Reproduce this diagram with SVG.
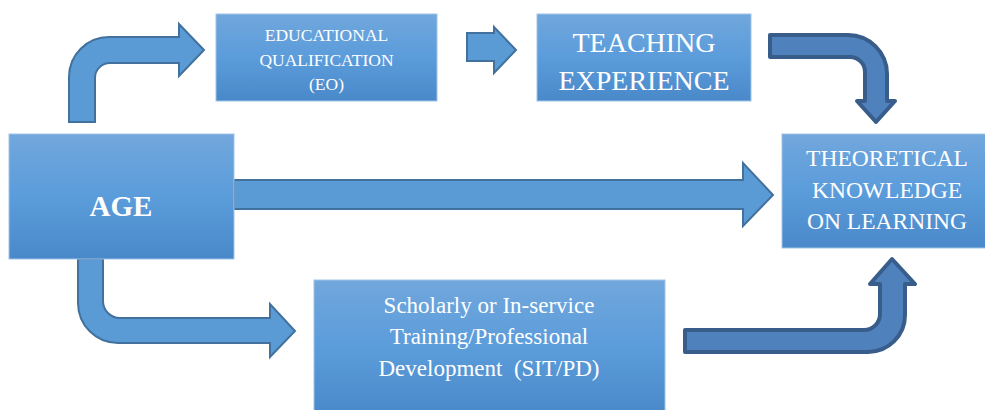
<svg xmlns="http://www.w3.org/2000/svg" width="985" height="410" viewBox="0 0 985 410">
<defs>
<linearGradient id="bg" x1="0" y1="0" x2="0" y2="1">
<stop offset="0" stop-color="#71a7dc"/>
<stop offset="0.5" stop-color="#5b9cdb"/>
<stop offset="1" stop-color="#4a89c9"/>
</linearGradient>
</defs>
<style>
.box{fill:url(#bg);stroke:#9fc4e8;stroke-width:1}
.t{fill:#ffffff;text-anchor:middle}
.la{fill:#5b9bd5;stroke:#41719c;stroke-width:2;stroke-linejoin:miter}
.da{fill:#4f81bd;stroke:#385d8a;stroke-width:4;stroke-linejoin:round}
</style>
<g id="connectors">
<path class="la" d="M69,122 L69,77 A40,40 0 0 1 109,37 L179,37 L179,24 L204,50 L179,76 L179,63 L110,63 A15,15 0 0 0 95,78 L95,122 Z"/>
<path class="la" d="M467,33 L494,33 L494,27 L516,50 L494,73 L494,61 L467,61 Z"/>
<path class="da" d="M770,35 L848,35 A39,39 0 0 1 887,74 L887,101 L895,101 L876,122 L857,101 L865,101 L865,72 A15,15 0 0 0 850,57 L770,57 Z"/>
<path class="la" d="M234,180 L743,180 L743,163 L773,195 L743,226 L743,209 L234,209 Z"/>
<path class="la" d="M78,259 L78,303 A40,40 0 0 0 118,343 L270,343 L270,357 L295,331 L270,304 L270,318 L120,318 A17,17 0 0 1 103,301 L103,259 Z"/>
<path class="da" d="M685,330 L864,330 A16,16 0 0 0 880,314 L880,284 L870,284 L892,259 L915,284 L905,284 L905,315 A37,37 0 0 1 868,352 L685,352 Z"/>
</g>
<g id="node-age">
<rect class="box" x="9" y="134" width="225" height="125"/>
<text class="t" x="121" y="216" font-family="Liberation Serif, DejaVu Serif, serif" font-size="29" font-weight="bold">AGE</text>
</g>
<g id="node-eq" font-family="Liberation Serif, DejaVu Serif, serif">
<rect class="box" x="216" y="14" width="221" height="87"/>
<text class="t" x="326.5" y="41" font-size="17.5">EDUCATIONAL</text>
<text class="t" x="326.5" y="66" font-size="17.5">QUALIFICATION</text>
<text class="t" x="326.5" y="90" font-size="17.5">(EO)</text>
</g>
<g id="node-teaching" font-family="Liberation Serif, DejaVu Serif, serif">
<rect class="box" x="537" y="14" width="214" height="87"/>
<text class="t" x="644" y="52" font-size="28">TEACHING</text>
<text class="t" x="644" y="90" font-size="28">EXPERIENCE</text>
</g>
<g id="node-theoretical" font-family="Liberation Serif, DejaVu Serif, serif">
<rect class="box" x="782" y="134" width="210" height="114"/>
<text class="t" x="887" y="166" font-size="23.5">THEORETICAL</text>
<text class="t" x="887" y="198" font-size="23.5">KNOWLEDGE</text>
<text class="t" x="887" y="229" font-size="23.5">ON LEARNING</text>
</g>
<g id="node-sit" font-family="Liberation Serif, DejaVu Serif, serif">
<rect class="box" x="314" y="280" width="351" height="135"/>
<text class="t" x="489" y="313" font-size="23">Scholarly or In-service</text>
<text class="t" x="489" y="344" font-size="23">Training/Professional</text>
<text class="t" x="489" y="376" font-size="23" xml:space="preserve">Development  (SIT/PD)</text>
</g>
</svg>
